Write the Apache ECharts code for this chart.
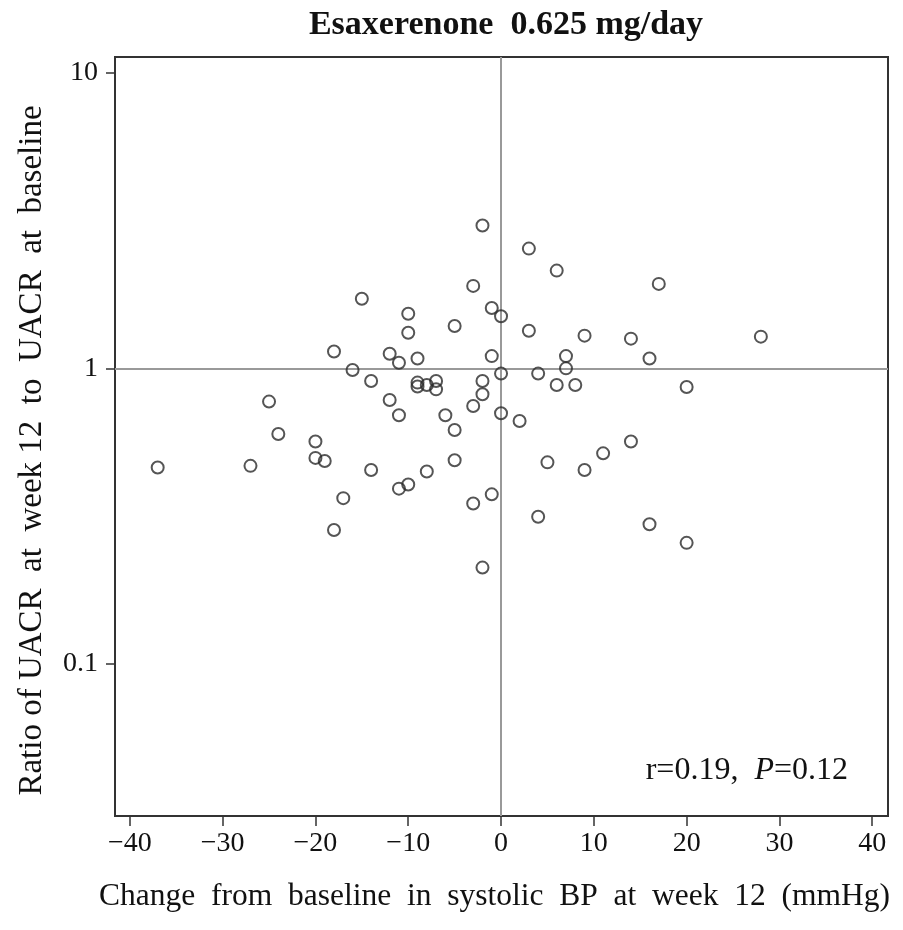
<!DOCTYPE html>
<html>
<head>
<meta charset="utf-8">
<script src="https://cdn.jsdelivr.net/npm/echarts@6/dist/echarts.min.js"></script>
<style>
  html, body { margin: 0; padding: 0; background: #fff; }
  #chart { width: 903px; height: 930px; }
</style>
</head>
<body>
<div id="chart"></div>
<script>
// Change from baseline in systolic BP at week 12 (mmHg)
var sbpChange = [-2,-15,-3,-10,-10,-5,-1,0,3,6,17,3,9,14,28,-1,7,16,0,4,7,-2,-2,-3,6,8,20,0,2,14,11,5,9,-1,4,16,20,-2,-18,-12,-11,-9,-16,-14,-9,-9,-8,-7,-7,-25,-12,-11,-6,-24,-20,-5,-37,-27,-20,-19,-14,-5,-8,-11,-10,-17,-3,-18];
// Ratio of UACR at week 12 to UACR at baseline
var uacrRatio = [3.04,1.72,1.90,1.53,1.32,1.39,1.60,1.50,2.54,2.14,1.93,1.34,1.29,1.26,1.28,1.10,1.10,1.08,0.96,0.96,1.00,0.906,0.817,0.746,0.878,0.878,0.865,0.705,0.664,0.566,0.516,0.481,0.453,0.375,0.315,0.297,0.257,0.212,1.14,1.12,1.045,1.08,0.987,0.906,0.895,0.868,0.878,0.906,0.849,0.772,0.782,0.694,0.694,0.600,0.566,0.619,0.462,0.468,0.498,0.486,0.453,0.489,0.448,0.392,0.405,0.364,0.349,0.284];
var xTicks = [-40,-30,-20,-10,0,10,20,30,40];
var yTicks = [0.1,1,10];
var refX = 0;
var refY = 1;
var titleText = 'Esaxerenone  0.625 mg/day';
var xTitle = 'Change  from  baseline  in  systolic  BP  at  week  12  (mmHg)';
var yTitle = 'Ratio of UACR  at  week 12  to  UACR  at  baseline';

var points = sbpChange.map(function (v, i) { return [v, uacrRatio[i]]; });
var serif = "'Liberation Serif', 'Times New Roman', serif";

var chart = echarts.init(document.getElementById('chart'), null, { renderer: 'canvas' });
chart.setOption({
  backgroundColor: '#fff',
  animation: false,
  title: {
    text: titleText,
    left: 501,
    textAlign: 'center',
    top: 3,
    textStyle: { fontFamily: serif, fontWeight: 'bold', fontSize: 34, color: '#111' }
  },
  grid: {
    left: 115, right: 15, top: 57, bottom: 114,
    show: true, borderColor: '#333', borderWidth: 2, backgroundColor: 'transparent'
  },
  xAxis: {
    type: 'value',
    min: -41.6, max: 41.7,
    name: xTitle,
    nameLocation: 'middle',
    nameGap: 65,
    nameTextStyle: { fontFamily: serif, fontSize: 31.5, color: '#111', padding: [0, 14, 0, 0] },
    axisLine: { show: true, onZero: false, lineStyle: { color: '#333', width: 2 } },
    axisTick: { show: true, inside: false, length: 10, customValues: xTicks, lineStyle: { color: '#333', width: 1.5 } },
    axisLabel: {
      customValues: xTicks,
      margin: 14,
      fontFamily: serif, fontSize: 28, color: '#111',
      formatter: function (v) { return String(v).replace('-', '\u2212'); }
    },
    splitLine: { show: false }
  },
  yAxis: {
    type: 'log',
    logBase: 10,
    min: 0.03065, max: 11.29,
    name: yTitle,
    nameLocation: 'middle',
    nameGap: 66,
    nameRotate: 90,
    nameTextStyle: { fontFamily: serif, fontSize: 33, color: '#111', padding: [0, 28, 0, 0] },
    axisLine: { show: true, onZero: false, lineStyle: { color: '#333', width: 2 } },
    axisTick: { show: true, inside: false, length: 9, customValues: yTicks, lineStyle: { color: '#333', width: 1.5 } },
    axisLabel: {
      customValues: yTicks,
      margin: 17,
      fontFamily: serif, fontSize: 28, color: '#111',
      formatter: function (v) { return String(v); }
    },
    splitLine: { show: false },
    minorTick: { show: false }
  },
  graphic: [{
    type: 'text',
    right: 55,
    top: 755,
    style: {
      text: '{a|r=0.19,  }{i|P}{a|=0.12}',
      rich: {
        a: { fontFamily: serif, fontSize: 32, fill: '#111' },
        i: { fontFamily: serif, fontSize: 32, fontStyle: 'italic', fill: '#111' }
      }
    }
  }],
  series: [{
    type: 'scatter',
    data: points,
    symbol: 'circle',
    symbolSize: 12,
    itemStyle: { color: 'rgba(255,255,255,0)', borderColor: '#2a2a2a', borderWidth: 2 },
    z: 3,
    markLine: {
      silent: true,
      symbol: 'none',
      z: 1,
      label: { show: false },
      lineStyle: { color: '#999', width: 2, type: 'solid' },
      data: [{ xAxis: refX }, { yAxis: refY }]
    }
  }]
});
</script>
</body>
</html>
